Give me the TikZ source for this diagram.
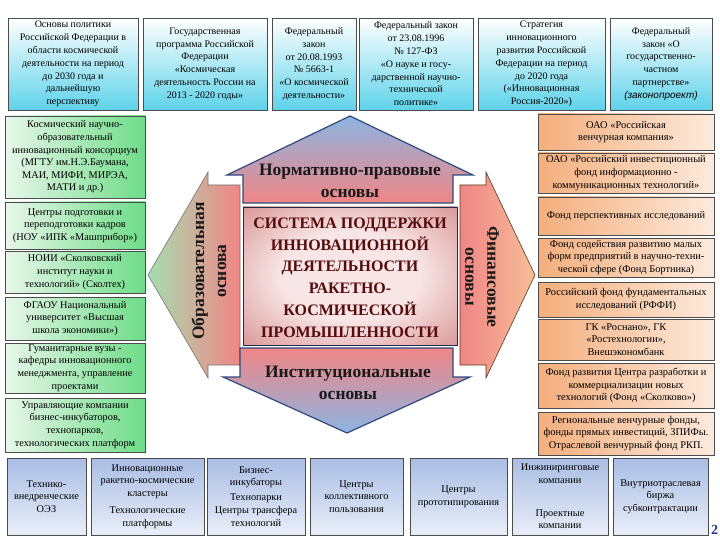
\documentclass[tikz,border=0pt]{standalone}
\usepackage{fontspec}
\setmainfont{Liberation Serif}
\newfontfamily\sansit{Liberation Sans}
\definecolor{cyanB}{HTML}{5ED3EA}
\definecolor{greenL}{HTML}{E8F7EA}
\definecolor{greenR}{HTML}{6EDC88}
\definecolor{orangeL}{HTML}{F4AE7C}
\definecolor{orangeR}{HTML}{FDEADC}
\definecolor{blueT}{HTML}{A9BDE4}
\definecolor{blueB}{HTML}{E9EEF8}
\definecolor{navy}{HTML}{2E4A7D}
\definecolor{arrowblue}{HTML}{8DB4E2}
\definecolor{arrowpink}{HTML}{F08686}
\definecolor{paleW}{HTML}{F8E4E4}
\definecolor{arrowgreen}{HTML}{A6DDB0}
\definecolor{arroworange}{HTML}{F6BE96}
\definecolor{maroon}{HTML}{560C0C}
\definecolor{coreout}{HTML}{A84040}
\definecolor{coremid}{HTML}{C45E5E}
\definecolor{corein}{HTML}{F8E6E6}
\definecolor{pagenum}{HTML}{1F3A93}
\pgfdeclareradialshading{coreshade}{\pgfpoint{0bp}{0bp}}{color(0bp)=(corein); color(16bp)=(corein); color(50bp)=(coremid); color(72bp)=(coreout)}
\tikzset{
  base/.style={draw=black!70, line width=0.6pt, align=center, inner sep=0.5pt},
  topbox/.style={base, top color=white, bottom color=cyanB, minimum height=92pt,
    font=\fontsize{10}{12.8}\selectfont},
  leftbox/.style={base, left color=greenL, right color=greenR, minimum width=140pt,
    font=\fontsize{10.3}{12.6}\selectfont},
  rightbox/.style={base, left color=orangeL, right color=orangeR, minimum width=176pt,
    font=\fontsize{10.4}{12.6}\selectfont},
  botbox/.style={base, top color=blueT, bottom color=blueB, minimum height=77pt,
    font=\fontsize{10.3}{12.6}\selectfont},
  arrowtext/.style={font=\fontsize{17.5}{22}\selectfont\bfseries, align=center, text=black!90, inner sep=0pt},
  bigarrow/.style={draw=navy, line width=1.2pt},
  sidearrow/.style={draw=black!55, line width=0.6pt},
}
\begin{document}
\begin{tikzpicture}[x=1pt,y=-1pt]
\useasboundingbox (0,0) rectangle (720,540);

% top row
\node[topbox, minimum width=130pt] (t1) at (73,64) {Основы политики\\Российской Федерации в\\области космической\\деятельности на период\\до 2030 года и\\дальнейшую\\перспективу};
\node[topbox, minimum width=124pt] (t2) at (205,64) {Государственная\\программа Российской\\Федерации\\«Космическая\\деятельность России на\\2013 - 2020 годы»};
\node[topbox, minimum width=84pt] (t3) at (314,64) {Федеральный\\закон\\от 20.08.1993\\№ 5663-1\\«О космической\\деятельности»};
\node[topbox, minimum width=114pt] (t4) at (416,64) {Федеральный закон\\от 23.08.1996\\№ 127-ФЗ\\«О науке и госу-\\дарственной научно-\\технической\\политике»};
\node[topbox, minimum width=127pt] (t5) at (541.5,64) {Стратегия\\инновационного\\развития Российской\\Федерации на период\\до 2020 года\\(«Инновационная\\Россия-2020»)};
\node[topbox, minimum width=102pt] (t6) at (661,64) {Федеральный\\закон «О\\государственно-\\частном\\партнерстве»\\{\sansit\itshape (законопроект)}};

% left column
\node[leftbox, minimum height=82pt] (l1) at (75,157) {Космический научно-\\образовательный\\инновационный консорциум\\(МГТУ им.Н.Э.Баумана,\\МАИ, МИФИ, МИРЭА,\\МАТИ и др.)};
\node[leftbox, minimum height=47pt] (l2) at (75,225.5) {Центры подготовки и\\переподготовки кадров\\(НОУ «ИПК «Машприбор»)};
\node[leftbox, minimum height=42pt] (l3) at (75,272) {НОИИ «Сколковский\\институт науки и\\технологий» (Сколтех)};
\node[leftbox, minimum height=43pt] (l4) at (75,318.5) {ФГАОУ Национальный\\университет «Высшая\\школа экономики»)};
\node[leftbox, minimum height=50pt] (l5) at (75,368) {Гуманитарные вузы -\\кафедры инновационного\\менеджмента, управление\\проектами};
\node[leftbox, minimum height=54pt] (l6) at (75,425) {Управляющие компании\\бизнес-инкубаторов,\\технопарков,\\технологических платформ};

% right column
\node[rightbox, minimum height=36pt] (r1) at (626,132) {ОАО «Российская\\венчурная компания»};
\node[rightbox, minimum height=40pt] (r2) at (626,173) {ОАО «Российский инвестиционный\\фонд информационно -\\коммуникационных технологий»};
\node[rightbox, minimum height=38pt] (r3) at (626,216) {Фонд перспективных исследований};
\node[rightbox, minimum height=39pt] (r4) at (626,257.5) {Фонд содействия развитию малых\\форм предприятий в научно-техни-\\ческой сфере (Фонд Бортника)};
\node[rightbox, minimum height=35pt] (r5) at (626,299.5) {Российский фонд фундаментальных\\исследований (РФФИ)};
\node[rightbox, minimum height=41pt] (r6) at (626,339.5) {ГК «Роснано», ГК\\«Ростехнологии»,\\Внешэкономбанк};
\node[rightbox, minimum height=45pt] (r7) at (626,385.5) {Фонд развития Центра разработки и\\коммерциализации новых\\технологий (Фонд «Сколково»)};
\node[rightbox, minimum height=43pt] (r8) at (626,433.5) {Региональные венчурные фонды,\\фонды прямых инвестиций, ЗПИФы.\\Отраслевой венчурный фонд РКП.};

% bottom row
\node[botbox, minimum width=79pt] (b1) at (46.5,496.5) {Технико-\\внедренческие\\ОЭЗ};
\node[botbox, minimum width=113pt] (b2) at (147.5,496.5) {Инновационные\\ракетно-космические\\кластеры\\[5pt]Технологические\\платформы};
\node[botbox, minimum width=98pt] (b3) at (256,496.5) {Бизнес-\\инкубаторы\\[2pt]Технопарки\\[1pt]Центры трансфера\\технологий};
\node[botbox, minimum width=93pt] (b4) at (356.5,496.5) {Центры\\коллективного\\пользования};
\node[botbox, minimum width=97pt] (b5) at (458.5,496.5) {Центры\\прототипирования};
\node[botbox, minimum width=96pt] (b6) at (560,496.5) {Инжиниринговые\\компании\\[20pt]Проектные\\компании};
\node[botbox, minimum width=95pt] (b7) at (660.5,496.5) {Внутриотраслевая\\биржа\\субконтрактации};

% side arrows
\path[sidearrow, left color=arrowgreen, middle color=paleW, right color=arrowpink]
  (148,275) -- (208,172) -- (208,185) -- (240,185) -- (240,365) -- (208,365) -- (208,378) -- cycle;
\path[sidearrow, draw=black!55!brown, left color=arrowpink, middle color=paleW, right color=arroworange]
  (535,275) -- (486,378) -- (486,365) -- (460,365) -- (460,185) -- (486,185) -- (486,172) -- cycle;

% top and bottom arrows
\path[bigarrow, top color=arrowblue, middle color=paleW, bottom color=arrowpink]
  (350,116) -- (473,175) -- (453,175) -- (453,203) -- (243,203) -- (243,175) -- (227,175) -- cycle;
\path[bigarrow, top color=arrowpink, middle color=paleW, bottom color=arrowblue]
  (240,348) -- (453,348) -- (453,377) -- (470,377) -- (347,433) -- (223,377) -- (240,377) -- cycle;

% core
\node[draw=navy!60!black, line width=0.9pt, shading=coreshade,
  minimum width=214pt, minimum height=138pt, inner sep=0pt] (core) at (350,276) {};
\node[font=\fontsize{16}{21.8}\selectfont\bfseries, text=maroon, align=center] (coretext) at (350,277.5)
  {СИСТЕМА ПОДДЕРЖКИ\\ИННОВАЦИОННОЙ\\ДЕЯТЕЛЬНОСТИ\\РАКЕТНО-\\КОСМИЧЕСКОЙ\\ПРОМЫШЛЕННОСТИ};

% arrow labels
\node[arrowtext] (norm) at (350,181) {Нормативно-правовые\\основы};
\node[arrowtext] (inst) at (348,382.5) {Институциональные\\основы};
\node[arrowtext, rotate=90] (edu) at (209,271) {Образовательная\\основа};
\node[arrowtext, rotate=-90] (fin) at (482,277) {Финансовые\\основы};

% page number
\node[font=\fontsize{14}{14}\selectfont\bfseries, text=pagenum, anchor=west, inner sep=0pt] (pg) at (711,530) {2};
\end{tikzpicture}
\end{document}
